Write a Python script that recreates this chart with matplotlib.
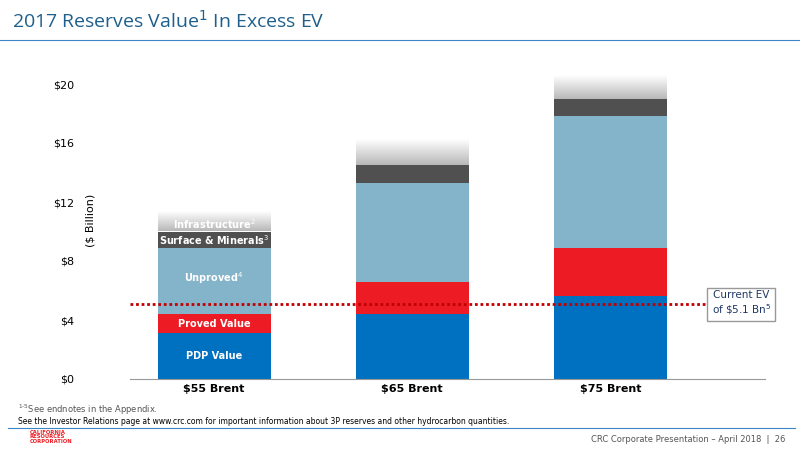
import matplotlib.pyplot as plt
import numpy as np
from matplotlib.colors import LinearSegmentedColormap

categories = ["$55 Brent", "$65 Brent", "$75 Brent"]
pdp = [3.1, 4.4, 5.6]
proved = [1.3, 2.2, 3.3]
unproved = [4.5, 6.7, 8.9]
surface = [1.1, 1.2, 1.2]
infra = [1.3, 1.7, 1.6]
current_ev = 5.1
yticks = [0, 4, 8, 12, 16, 20]

fig = plt.figure(figsize=(8, 4.5), dpi=100)
W, H = 800, 450

# header
fig.text(12 / W, 1 - 21 / H, "2017 Reserves Value$^1$ In Excess EV", fontsize=14,
         color="#1f5f8b", va="center", family="Open Sans")
fig.add_artist(plt.Line2D([0, 1], [1 - 40 / H] * 2, color="#3a86c8", lw=0.8))
fig.add_artist(plt.Line2D([8 / W, 795 / W], [1 - 428 / H] * 2, color="#3a86c8", lw=0.8))

ax = fig.add_axes([130 / W, (H - 379) / H, 635 / W, 317 / H])
ax.set_xlim(-0.424, 2.78)
ax.set_ylim(0, 20 * 317 / 295)
x = np.arange(len(categories))
bw = 0.57

b0 = np.zeros(3)
for vals, col in [(pdp, "#0070c0"), (proved, "#ed1c24"), (unproved, "#84b4c9"), (surface, "#505050")]:
    ax.bar(x, vals, bw, bottom=b0, color=col, zorder=2)
    b0 = b0 + np.array(vals)

# infrastructure: grey fading to white
grad = np.linspace(0, 1, 100).reshape(-1, 1)
cmap = LinearSegmentedColormap.from_list("fade", ["#b8b8b8", "#ffffff"])
for i in range(3):
    ax.imshow(grad, extent=(x[i] - bw / 2, x[i] + bw / 2, b0[i], b0[i] + infra[i]),
              origin="lower", cmap=cmap, aspect="auto", zorder=2)

ax.axhline(current_ev, color="#c00000", ls=(0, (1, 1)), lw=2, zorder=3)

lab = dict(ha="center", va="center", color="white", fontsize=7, fontweight="bold", zorder=4)
ax.text(0, pdp[0] / 2, "PDP Value", **lab)
ax.text(0, pdp[0] + proved[0] / 2, "Proved Value", **lab)
ax.text(0, pdp[0] + proved[0] + unproved[0] / 2 + 0.2, "Unproved$^4$", **lab)
ax.text(0, b0[0] - surface[0] / 2, "Surface & Minerals$^3$", **lab)
ax.text(0, b0[0] + infra[0] * 0.4, "Infrastructure$^2$", **lab)

ax.text(2.66, current_ev, "Current EV\nof \\$5.1 Bn$^5$", ha="center", va="center", fontsize=7.5,
        color="#1f3864", bbox=dict(boxstyle="square,pad=0.4", fc="white", ec="#999999"), zorder=5)

ax.set_xticks(x)
ax.set_xticklabels(categories, fontsize=8, fontweight="bold")
ax.set_yticks(yticks)
ax.set_yticklabels([f"${v}" for v in yticks], fontsize=8)
ax.set_ylabel("($ Billion)", fontsize=8)
ax.yaxis.set_label_coords(-0.055, 0.5)
for s in ["top", "right", "left"]:
    ax.spines[s].set_visible(False)
ax.spines["bottom"].set_color("#999999")
ax.tick_params(length=0)
ax.tick_params(axis="y", pad=40)

fig.text(18 / W, 1 - 410 / H, "$^{1\u20105}$See endnotes in the Appendix.", fontsize=6, color="#555555", va="center")
fig.text(18 / W, 1 - 422 / H, "See the Investor Relations page at www.crc.com for important information about 3P reserves and other hydrocarbon quantities.",
         fontsize=5.5, va="center")
fig.text(30 / W, 1 - 437 / H, "CALIFORNIA\nRESOURCES\nCORPORATION", fontsize=3.8, color="#ed1c24",
         fontweight="bold", va="center", linespacing=0.9)
fig.text(785 / W, 1 - 440 / H, "CRC Corporate Presentation \u2013 April 2018  |  26", fontsize=6,
         color="#555555", ha="right", va="center")

fig.savefig("out.png", dpi=100)
